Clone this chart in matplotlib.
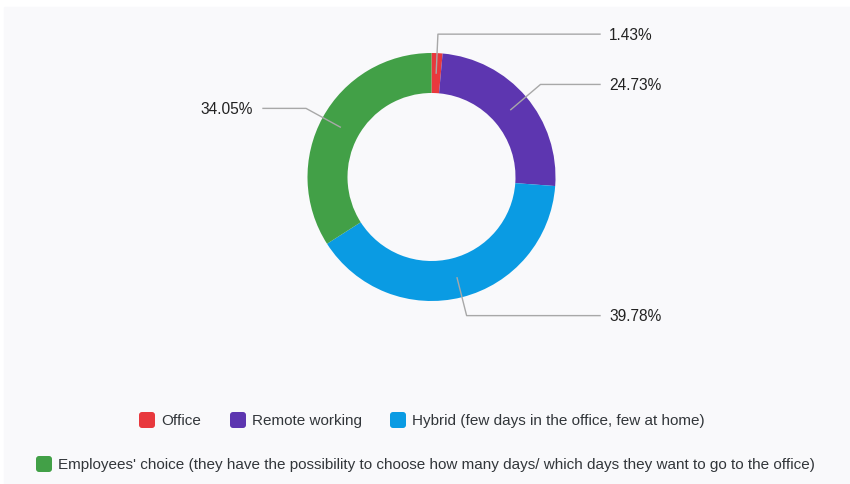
import numpy as np
import matplotlib.pyplot as plt
from matplotlib.patches import FancyBboxPatch, Rectangle

#%% Data
categories = ["Office", "Remote working", "Hybrid (few days in the office, few at home)",
              "Employees' choice (they have the possibility to choose how many days/ which days they want to go to the office)"]
shares = [1.43, 24.73, 39.78, 34.05]
colors = ["#e8383d", "#5d36b0", "#0a9be3", "#42a047"]

#%% Plot
W, H = 850, 484
fig = plt.figure(figsize=(W / 100, H / 100), dpi=100)
ax = fig.add_axes([0, 0, 1, 1])
plt.rcParams["font.family"] = ["Liberation Sans", "DejaVu Sans"]

# panel background
ax.add_patch(Rectangle((4, 0), W - 4, H - 7, color="#f9f9fb", zorder=0))

cx, cy = 431.5, H - 177
r_out, ring = 124, 40
ax.pie(shares, colors=colors, startangle=90, counterclock=False,
       center=(cx, cy), radius=r_out, frame=True,
       wedgeprops=dict(width=ring, linewidth=0))
ax.set_xlim(0, W)
ax.set_ylim(0, H)
ax.axis("off")

# leader lines + value labels
cum = np.cumsum([0] + shares[:-1])
for s, c0 in zip(shares, cum):
    ang = np.deg2rad(90 - (c0 + s / 2) * 3.6)
    x0, y0 = cx + 104 * np.cos(ang), cy + 104 * np.sin(ang)
    x1, y1 = cx + 143 * np.cos(ang), cy + 143 * np.sin(ang)
    if np.cos(ang) >= 0:
        x2, tx, ha = 600, 609, "left"
    else:
        x2, tx, ha = 263, 253, "right"
    ax.plot([x0, x1, x2], [y0, y1, y1], color="#a8a8a8", lw=1, zorder=3)
    ax.text(tx, y1 - 1, f"{s:.2f}%", ha=ha, va="center", fontsize=11.2, color="#222222")

# legend
leg_pos = [(139, 420), (230, 420), (390, 420), (36, 464)]
for lab, col, (lx, ly) in zip(categories, colors, leg_pos):
    ax.add_patch(FancyBboxPatch((lx + 2, H - ly - 6), 12, 12,
                                boxstyle="round,pad=2,rounding_size=3",
                                fc=col, ec="none"))
    ax.text(lx + 22, H - ly - 1, lab, ha="left", va="center",
            fontsize=11, color="#32363a")

plt.savefig("out.png", dpi=100)
